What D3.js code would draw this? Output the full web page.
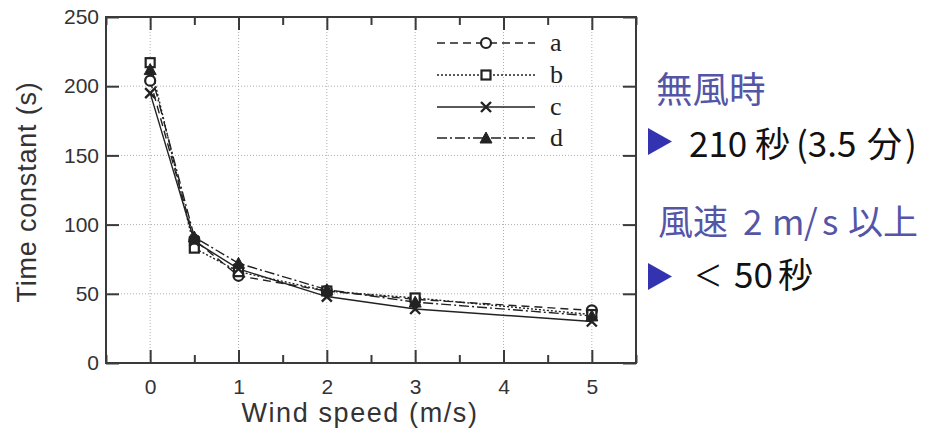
<!DOCTYPE html>
<html><head><meta charset="utf-8">
<script src="https://cdn.jsdelivr.net/npm/d3@7"></script>
<style>body{margin:0;background:#fff;} svg{display:block;}</style>
</head><body>
<svg id="chart" width="925" height="430"></svg>
<script>
// ---- data ----
const windSpeeds = [0, 0.5, 1, 2, 3, 5];
const seriesNames = ["a", "b", "c", "d"];
const seriesA = [204, 89, 63, 52, 46, 38];
const seriesB = [217, 83, 66, 52, 47, 35];
const seriesC = [195, 88, 68, 48, 39, 30];
const seriesD = [212, 91, 72, 53, 44, 34];
const xTicks = [0, 1, 2, 3, 4, 5];
const xMinorTicks = [-0.5, 0.5, 1.5, 2.5, 3.5, 4.5, 5.5];
const yTicks = [0, 50, 100, 150, 200, 250];
const xLabel = "Wind speed (m/s)";
const yLabel = "Time constant (s)";

const svg = d3.select("#chart");
const L = 106, R = 636, T = 17, B = 363;
const x = d3.scaleLinear().domain([-0.5, 5.5]).range([L, R]);
const y = d3.scaleLinear().domain([0, 250]).range([B, T]);
const ink = "#222";
const axisCol = "#3a3a3a";

// grid
const g = svg.append("g");
g.selectAll(".gx").data(xTicks).join("line")
  .attr("x1", d => x(d)).attr("x2", d => x(d)).attr("y1", T).attr("y2", B)
  .attr("stroke", "#b0b0b0").attr("stroke-width", 1).attr("stroke-dasharray", "1,2");
g.selectAll(".gy").data(yTicks.slice(1, -1)).join("line")
  .attr("x1", L).attr("x2", R).attr("y1", d => y(d)).attr("y2", d => y(d))
  .attr("stroke", "#b0b0b0").attr("stroke-width", 1).attr("stroke-dasharray", "1,2");

// axes with inward ticks
function addAxis(axis, tr) {
  const a = svg.append("g").attr("transform", tr).call(axis);
  a.select(".domain").remove();
  a.selectAll(".tick line").attr("stroke", axisCol).attr("stroke-width", 2);
  return a;
}
const fontSans = "'Liberation Sans', Arial, Helvetica, sans-serif";
const xb = addAxis(d3.axisBottom(x).tickValues(xTicks).tickSize(-13).tickPadding(10).tickFormat(d3.format("d")), `translate(0,${B})`);
xb.selectAll(".tick text").attr("font-family", fontSans).attr("font-size", 21).attr("fill", "#333").attr("dy", "1em");
addAxis(d3.axisBottom(x).tickValues(xMinorTicks).tickSize(-8).tickFormat(""), `translate(0,${B})`);
addAxis(d3.axisTop(x).tickValues(xTicks).tickSize(-13).tickFormat(""), `translate(0,${T})`);
addAxis(d3.axisTop(x).tickValues(xMinorTicks).tickSize(-8).tickFormat(""), `translate(0,${T})`);
const yl = addAxis(d3.axisLeft(y).tickValues(yTicks).tickSize(-13).tickPadding(8).tickFormat(d3.format("d")), `translate(${L},0)`);
yl.selectAll(".tick text").attr("font-family", fontSans).attr("font-size", 21).attr("fill", "#333").attr("x", -7);
addAxis(d3.axisRight(y).tickValues(yTicks).tickSize(-13).tickFormat(""), `translate(${R},0)`);

// frame
svg.append("rect").attr("x", L).attr("y", T).attr("width", R - L).attr("height", B - T)
  .attr("fill", "none").attr("stroke", axisCol).attr("stroke-width", 2);

// axis labels
svg.append("text").attr("x", 360).attr("y", 422).attr("text-anchor", "middle")
  .attr("font-family", fontSans).attr("font-size", 27).attr("letter-spacing", 1.6).attr("fill", "#333").text(xLabel);
svg.append("text").attr("transform", "translate(36,192) rotate(-90)").attr("text-anchor", "middle")
  .attr("font-family", fontSans).attr("font-size", 27).attr("letter-spacing", 0.8).attr("fill", "#333").text(yLabel);

// series
const allSeries = [seriesA, seriesB, seriesC, seriesD];
const dashes = ["8,5", "2,2", null, "10,3,2,3"];
const markers = ["circle", "square", "cross", "triangle"];
const line = d3.line().x((d, i) => x(windSpeeds[i])).y(d => y(d));

function drawMarker(sel, type, cx, cy) {
  if (type === "circle") {
    sel.append("circle").attr("cx", cx).attr("cy", cy).attr("r", 5)
      .attr("fill", "#fff").attr("stroke", ink).attr("stroke-width", 2.2);
  } else if (type === "square") {
    sel.append("rect").attr("x", cx - 4.5).attr("y", cy - 4.5).attr("width", 9).attr("height", 9)
      .attr("fill", "#fff").attr("stroke", ink).attr("stroke-width", 2.2);
  } else if (type === "cross") {
    sel.append("path").attr("d", `M${cx-5},${cy-5}L${cx+5},${cy+5}M${cx-5},${cy+5}L${cx+5},${cy-5}`)
      .attr("stroke", ink).attr("stroke-width", 2.4).attr("fill", "none");
  } else {
    sel.append("path").attr("d", `M${cx},${cy-6}L${cx+6},${cy+5}L${cx-6},${cy+5}Z`)
      .attr("fill", ink).attr("stroke", ink).attr("stroke-width", 1);
  }
}

allSeries.forEach((vals, k) => {
  const p = svg.append("path").datum(vals).attr("d", line)
    .attr("fill", "none").attr("stroke", ink).attr("stroke-width", 1.4);
  if (dashes[k]) p.attr("stroke-dasharray", dashes[k]);
});
allSeries.forEach((vals, k) => {
  const mg = svg.append("g");
  vals.forEach((v, i) => drawMarker(mg, markers[k], x(windSpeeds[i]), y(v)));
});

// legend
const legY = [43, 75, 107, 138];
seriesNames.forEach((name, k) => {
  const lg = svg.append("g");
  const ln = lg.append("line").attr("x1", 437).attr("x2", 535).attr("y1", legY[k]).attr("y2", legY[k])
    .attr("stroke", ink).attr("stroke-width", 1.6);
  if (dashes[k]) ln.attr("stroke-dasharray", dashes[k]);
  drawMarker(lg, markers[k], 486, legY[k]);
  lg.append("text").attr("x", 550).attr("y", legY[k] + 8).attr("font-family", "'Liberation Serif', 'Times New Roman', serif")
    .attr("font-size", 26).attr("fill", "#222").text(name);
});

// side notes
const cjk = "'Noto Sans CJK JP', 'Noto Sans', sans-serif";
const headCol = "#5555a8", bulletCol = "#3333b2";
function bullet(cy) {
  svg.append("path").attr("d", `M648,${cy-13.5}L672,${cy}L648,${cy+13.5}Z`).attr("fill", bulletCol);
}
function piece(txt, px, py, size, col, fam) {
  svg.append("text").attr("x", px).attr("y", py).attr("font-family", fam || cjk).attr("font-size", size)
    .attr("fill", col).text(txt);
}
piece("無風時", 656, 103, 36.5, headCol);
bullet(141.5);
piece("210", 689, 156.5, 35, "#111");
piece("秒", 755, 156.5, 35, "#111");
piece("(3.5", 796, 156.5, 35, "#111");
piece("分", 867, 156.5, 35, "#111");
piece(")", 905, 156.5, 35, "#111");
piece("風速", 658, 235, 35, headCol);
piece("2", 743, 235, 35, headCol);
piece("m", 772, 235, 35, headCol);
piece("/", 804, 235, 35, headCol);
piece("s", 822, 235, 35, headCol);
piece("以上", 848, 235, 35, headCol);
bullet(276.5);
piece("<", 695, 291, 46, "#111", "'Liberation Serif', serif");
piece("50", 734, 288, 35, "#111");
piece("秒", 778, 288, 35, "#111");
</script>
</body></html>
